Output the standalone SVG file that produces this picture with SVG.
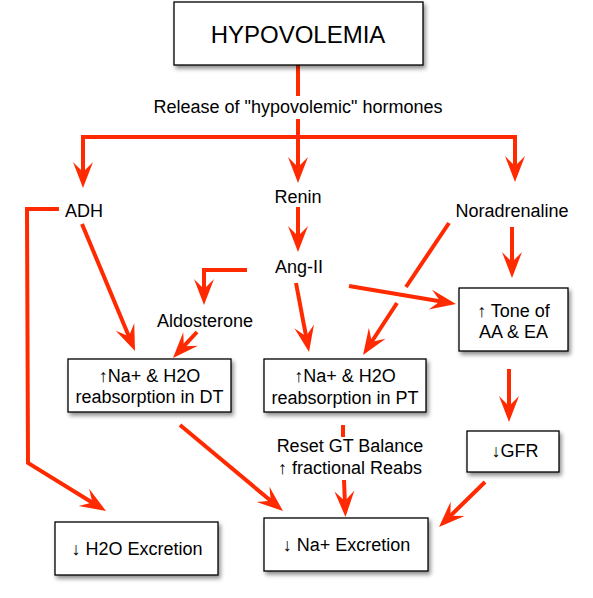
<svg xmlns="http://www.w3.org/2000/svg" width="593" height="598" viewBox="0 0 593 598">
<defs>
<style>
.box{fill:#fff;stroke:#000;stroke-width:1.3;filter:url(#sh)}
.t{font-family:"Liberation Sans",Arial,sans-serif;font-size:18px;fill:#000;text-anchor:middle}
.c{fill:none;stroke:#ff2a00;stroke-width:4;stroke-linejoin:miter}
.a{marker-end:url(#ah)}
</style>
<filter id="sh" x="-20%" y="-20%" width="140%" height="150%">
<feDropShadow dx="2" dy="3" stdDeviation="2" flood-color="#000" flood-opacity="0.45"/>
</filter>
<marker id="ah" markerUnits="userSpaceOnUse" markerWidth="40" markerHeight="30" refX="0" refY="0" orient="auto-start-reverse" overflow="visible">
<path d="M12,0 L-14,-10 L-4,0 L-14,10 Z" fill="#ff2a00"/>
</marker>
</defs>
<rect width="593" height="598" fill="#fff"/>
<g id="connectors">
<path class="c" d="M298,65 L298,96"/>
<path class="c a" d="M298,119 L298,171"/>
<path class="c" style="marker-start:url(#ah);marker-end:url(#ah)" d="M83,176 L83,137 L515,137 L515,170"/>
<path class="c a" d="M298,207 L298,240"/>
<path class="c a" d="M247,270 L204,270 L204,293"/>
<path class="c a" d="M296,283 L306.8,340.2"/>
<path class="c a" d="M349,286 L444.2,302"/>
<path class="c" d="M449,223 L406,287"/>
<path class="c a" d="M397,303 L369.6,345"/>
<path class="c a" d="M512,227 L512,266"/>
<path class="c a" d="M82,224 L130.4,339.9"/>
<path class="c a" d="M197,332 L181.1,349.2"/>
<path class="c a" d="M59,209 L27,209 L28,463 L95.8,504.7"/>
<path class="c a" d="M180,425 L273.8,503.3"/>
<path class="c" d="M343,425 L343,437"/>
<path class="c a" d="M344,480 L345,505"/>
<path class="c a" d="M509,369 L509,410"/>
<path class="c a" d="M485,482 L447.6,518.6"/>
</g>
<g id="hypovolemia">
<rect class="box" x="174" y="2" width="249" height="63"/>
<text class="t" x="298" y="43" style="font-size:24px">HYPOVOLEMIA</text>
</g>
<g id="release"><text class="t" x="298" y="113">Release of "hypovolemic" hormones</text></g>
<g id="adh"><text class="t" x="84" y="217">ADH</text></g>
<g id="renin"><text class="t" x="298" y="203">Renin</text></g>
<g id="noradrenaline"><text class="t" x="512" y="217">Noradrenaline</text></g>
<g id="angii"><text class="t" x="299" y="273">Ang-II</text></g>
<g id="aldosterone"><text class="t" x="205" y="327">Aldosterone</text></g>
<g id="dt">
<rect class="box" x="68" y="359" width="163" height="53"/>
<text class="t" x="149.5" y="382">↑Na+ &amp; H2O</text>
<text class="t" x="149.5" y="403">reabsorption in DT</text>
</g>
<g id="pt">
<rect class="box" x="264" y="359" width="162" height="53"/>
<text class="t" x="345" y="382">↑Na+ &amp; H2O</text>
<text class="t" x="345" y="404">reabsorption in PT</text>
</g>
<g id="tone">
<rect class="box" x="459" y="288" width="109" height="63"/>
<text class="t" x="513.5" y="317">↑ Tone of</text>
<text class="t" x="513.5" y="338">AA &amp; EA</text>
</g>
<g id="reset">
<text class="t" x="350" y="452">Reset GT Balance</text>
<text class="t" x="350" y="474">↑ fractional Reabs</text>
</g>
<g id="gfr">
<rect class="box" x="467" y="431" width="92" height="41"/>
<text class="t" x="515" y="457">↓GFR</text>
</g>
<g id="h2o">
<rect class="box" x="55" y="522" width="163" height="53"/>
<text class="t" x="137" y="555">↓ H2O Excretion</text>
</g>
<g id="na">
<rect class="box" x="264" y="518" width="164" height="53"/>
<text class="t" x="346.5" y="551">↓ Na+ Excretion</text>
</g>
</svg>
